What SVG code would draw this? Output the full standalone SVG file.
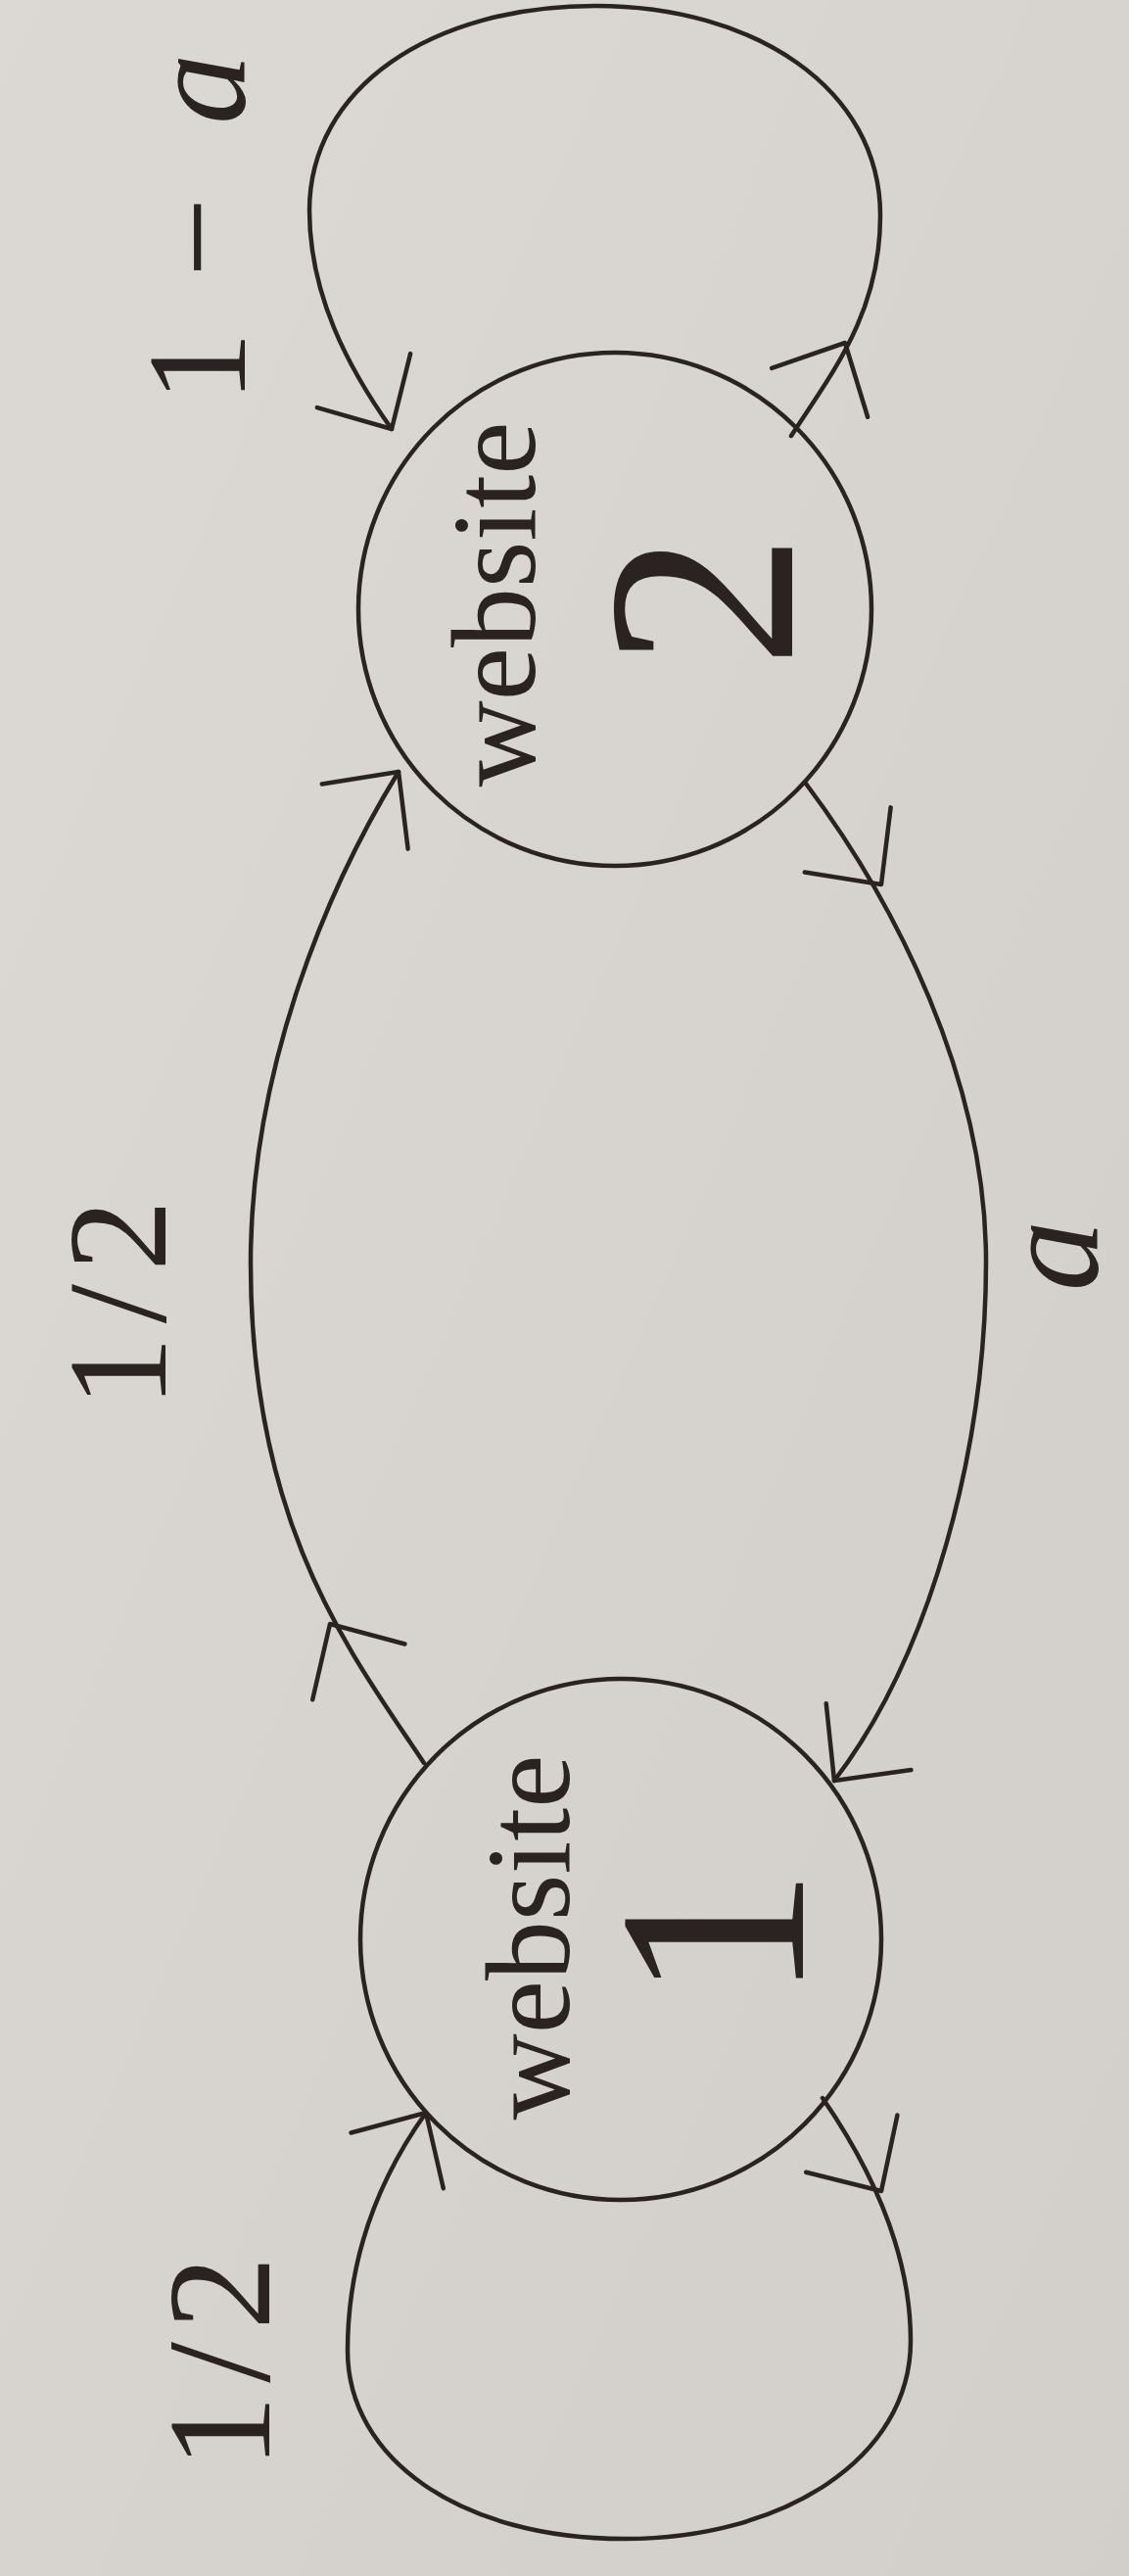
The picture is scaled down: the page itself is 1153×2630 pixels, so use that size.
<svg xmlns="http://www.w3.org/2000/svg" xmlns:xlink="http://www.w3.org/1999/xlink" width="1153" height="2630" viewBox="0 0 1153 2630">
  <defs>
    <linearGradient id="bg" x1="0" y1="0" x2="1" y2="1">
      <stop offset="0" stop-color="#dcd8d4"/>
      <stop offset="1" stop-color="#d2cec9"/>
    </linearGradient>
    <path id="ah" d="M -57 -55 L 0 0 L -57 55" fill="none" stroke="#2a2321" stroke-width="4.5" stroke-linecap="round" stroke-linejoin="round"/>
  </defs>
  <style>
    .node { fill: none; stroke: #2a2321; stroke-width: 4.5; }
    .edge { fill: none; stroke: #2a2321; stroke-width: 4.5; stroke-linecap: round; }
    .t { font-family: "Liberation Serif", "Times New Roman", serif; fill: #2a2321; }
    .lbl { font-size: 145px; }
    .small { font-size: 122px; }
    .big { font-size: 275px; }
  </style>
  <rect width="1153" height="2630" fill="url(#bg)"/>

  <g id="connectors">
    <!-- loop on website 2 (1 - a) -->
    <path class="edge" d="M 808 445 C 850 380, 899 320, 899 220 C 899 90, 770 6, 608 6 C 440 6, 316 90, 316 215 C 316 300, 355 375, 400 438"/>
    <use xlink:href="#ah" transform="translate(863,350) rotate(-63)"/>
    <use xlink:href="#ah" transform="translate(400,438) rotate(60)"/>
    <!-- website 1 -> website 2 (1/2) -->
    <path class="edge" d="M 433 1800 C 360 1690, 256 1560, 256 1290 C 256 1090, 335 905, 407 788"/>
    <use xlink:href="#ah" transform="translate(337,1658) rotate(-121)"/>
    <use xlink:href="#ah" transform="translate(407,788) rotate(-53)"/>
    <!-- website 2 -> website 1 (a) -->
    <path class="edge" d="M 823 800 C 913 920, 1007 1100, 1007 1288 C 1007 1480, 950 1690, 852 1818"/>
    <use xlink:href="#ah" transform="translate(900,903) rotate(53)"/>
    <use xlink:href="#ah" transform="translate(852,1818) rotate(128)"/>
    <!-- loop on website 1 (1/2) -->
    <path class="edge" d="M 840 2142 C 880 2200, 930 2290, 930 2390 C 930 2510, 800 2592, 638 2592 C 470 2592, 355 2510, 355 2400 C 355 2300, 390 2220, 435 2157"/>
    <use xlink:href="#ah" transform="translate(900,2237) rotate(58)"/>
    <use xlink:href="#ah" transform="translate(435,2157) rotate(-59)"/>
  </g>

  <g id="edge-labels">
    <text class="t lbl" transform="translate(250,0) rotate(-90)"><tspan x="-411" y="0">1</tspan><tspan x="-283" y="0">−</tspan><tspan x="-127" y="0" font-style="italic">a</tspan></text>
    <text class="t lbl" text-anchor="middle" textLength="212" lengthAdjust="spacing" transform="translate(169,1331) rotate(-90)">1/2</text>
    <text class="t" font-size="145" font-style="italic" text-anchor="middle" transform="translate(1121,1282) rotate(-90)">a</text>
    <text class="t" font-size="150" text-anchor="middle" textLength="217" lengthAdjust="spacing" transform="translate(275,2412) rotate(-90)">1/2</text>
  </g>

  <g id="node-website2">
    <circle class="node" cx="628" cy="622" r="262"/>
    <text class="t small" text-anchor="middle" transform="translate(546,617) rotate(-90)">website</text>
    <text class="t big" text-anchor="middle" transform="translate(809,613) rotate(-90)">2</text>
  </g>

  <g id="node-website1">
    <circle class="node" cx="634" cy="1980" r="266"/>
    <text class="t small" text-anchor="middle" transform="translate(581,1978) rotate(-90)">website</text>
    <text class="t big" text-anchor="middle" transform="translate(820,1975) rotate(-90)">1</text>
  </g>
</svg>
